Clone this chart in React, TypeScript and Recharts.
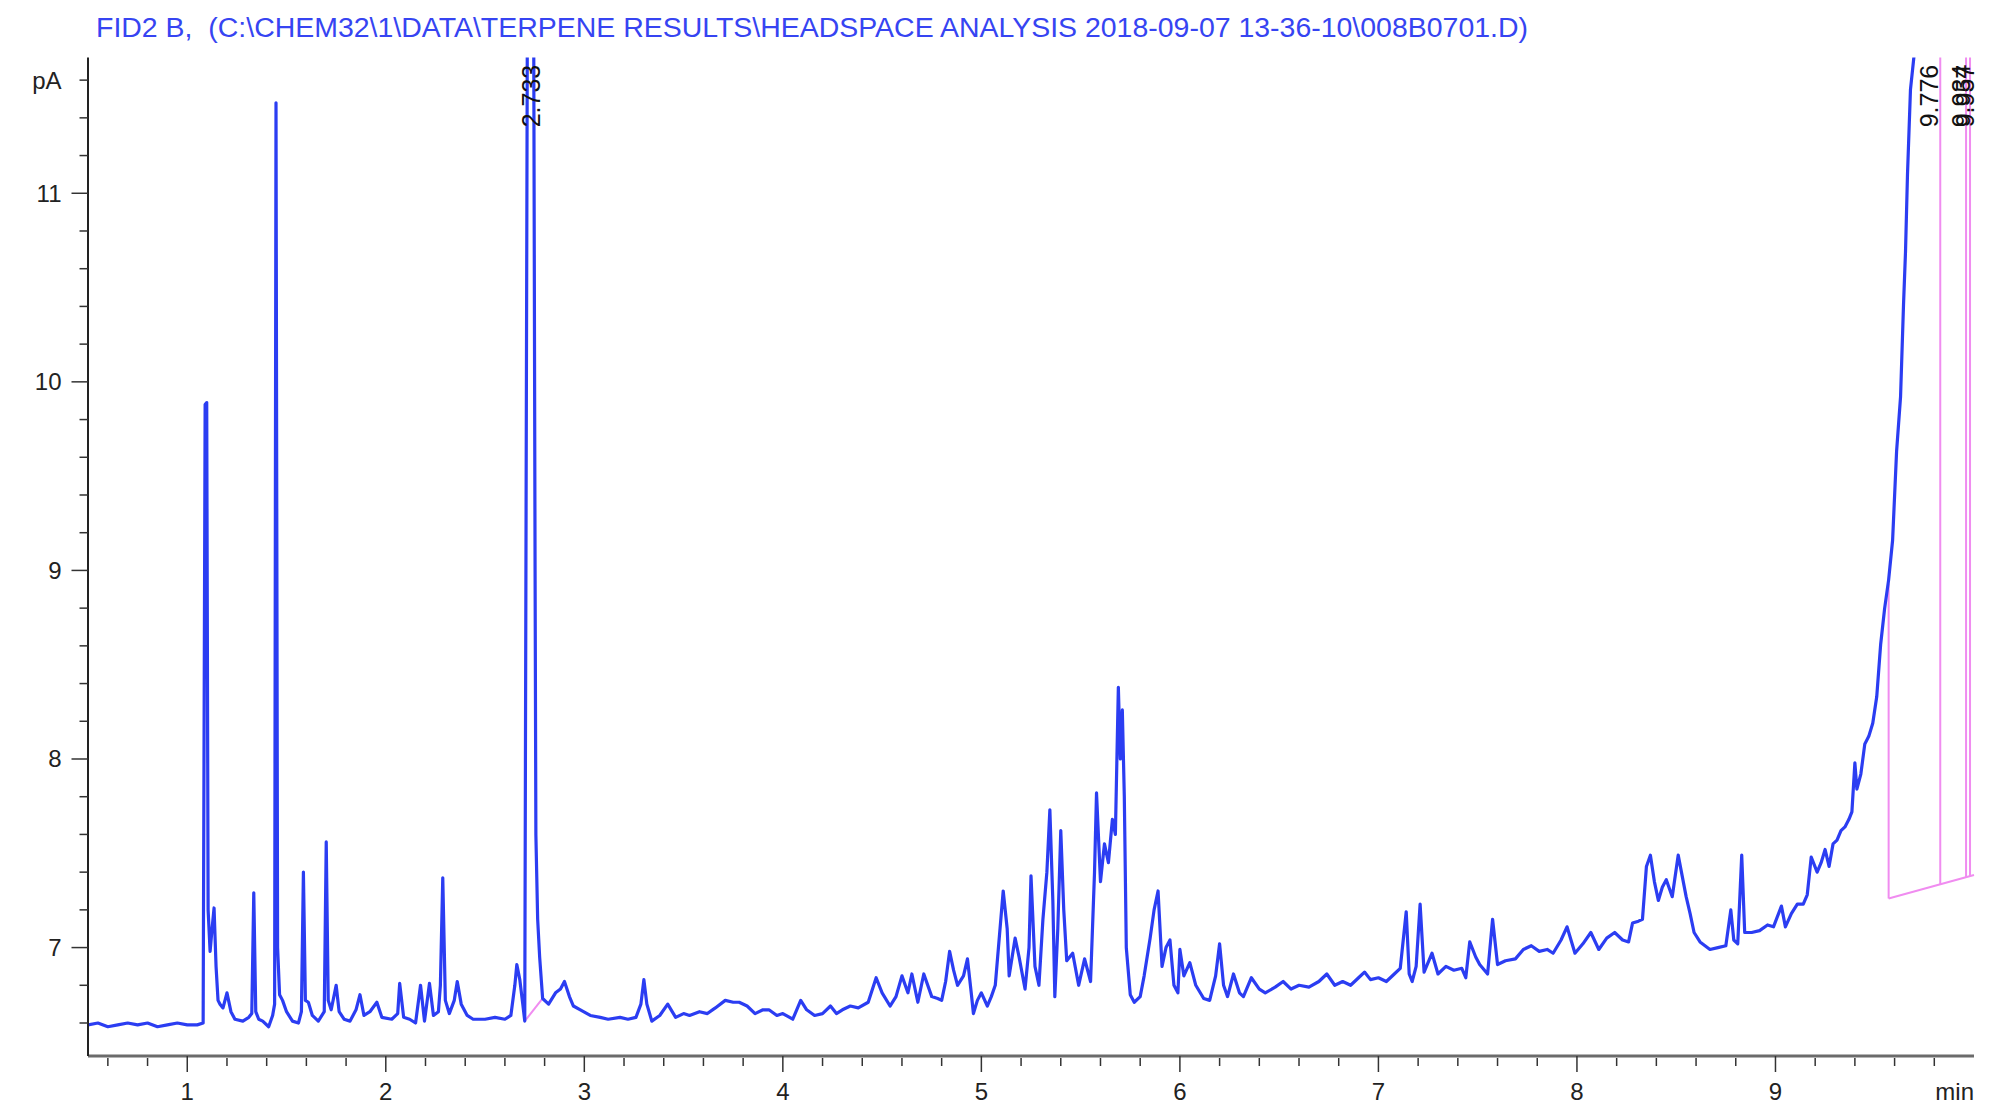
import { LineChart, Line, XAxis, YAxis, ReferenceLine, ReferenceDot } from "recharts";

const title =
  "FID2 B,  (C:\\CHEM32\\1\\DATA\\TERPENE RESULTS\\HEADSPACE ANALYSIS 2018-09-07 13-36-10\\008B0701.D)";

// [retention time (min), signal (pA)]
const traceEarly: [number, number][] = [
  [0.5, 6.59], [0.55, 6.6], [0.6, 6.58], [0.65, 6.59], [0.7, 6.6], [0.75, 6.59], [0.8, 6.6],
  [0.85, 6.58], [0.9, 6.59], [0.95, 6.6], [1.0, 6.59], [1.05, 6.59], [1.08, 6.6], [1.09, 9.88],
  [1.098, 9.89], [1.105, 7.2], [1.115, 6.98], [1.125, 7.1], [1.135, 7.21], [1.145, 6.9],
  [1.155, 6.72], [1.165, 6.7], [1.18, 6.68], [1.2, 6.76], [1.22, 6.66], [1.24, 6.62], [1.28, 6.61],
  [1.31, 6.63], [1.325, 6.65], [1.335, 7.29], [1.345, 6.66], [1.36, 6.62], [1.38, 6.61],
  [1.41, 6.58], [1.43, 6.64], [1.44, 6.7], [1.447, 11.48], [1.455, 7.0], [1.465, 6.75],
  [1.48, 6.72], [1.5, 6.66], [1.53, 6.61], [1.56, 6.6], [1.575, 6.66], [1.585, 7.4],
  [1.595, 6.72], [1.61, 6.71], [1.63, 6.64], [1.66, 6.61], [1.69, 6.66], [1.7, 7.56],
  [1.71, 6.72], [1.725, 6.67], [1.75, 6.8], [1.765, 6.66], [1.79, 6.62], [1.82, 6.61],
  [1.85, 6.67], [1.87, 6.75], [1.89, 6.64], [1.92, 6.66], [1.955, 6.71], [1.98, 6.63],
  [2.03, 6.62], [2.06, 6.65], [2.07, 6.81], [2.09, 6.63], [2.12, 6.62], [2.15, 6.6],
  [2.175, 6.8], [2.195, 6.61], [2.22, 6.81], [2.24, 6.64], [2.265, 6.66], [2.275, 6.8],
  [2.287, 7.37], [2.3, 6.72], [2.32, 6.65], [2.345, 6.72], [2.36, 6.82], [2.38, 6.7],
  [2.41, 6.64], [2.44, 6.62], [2.5, 6.62], [2.55, 6.63], [2.6, 6.62], [2.63, 6.64],
  [2.65, 6.8], [2.66, 6.91], [2.675, 6.83], [2.69, 6.7], [2.7, 6.61],
];

const traceMajorPeak: [number, number][] = [
  [2.713, 11.9], [2.728, 12.6], [2.745, 11.9], [2.752, 9.0], [2.756, 7.6], [2.765, 7.15],
  [2.775, 6.95], [2.79, 6.73], [2.82, 6.7], [2.855, 6.76], [2.88, 6.78], [2.9, 6.82],
  [2.925, 6.74], [2.945, 6.69], [2.98, 6.67],
];

const traceMid: [number, number][] = [
  [3.03, 6.64], [3.08, 6.63], [3.12, 6.62], [3.18, 6.63], [3.22, 6.62], [3.26, 6.63],
  [3.285, 6.7], [3.3, 6.83], [3.315, 6.7], [3.34, 6.61], [3.38, 6.64], [3.42, 6.7],
  [3.46, 6.63], [3.5, 6.65], [3.53, 6.64], [3.58, 6.66], [3.62, 6.65], [3.66, 6.68],
  [3.71, 6.72], [3.75, 6.71], [3.78, 6.71], [3.82, 6.69], [3.86, 6.65], [3.9, 6.67],
  [3.93, 6.67], [3.97, 6.64], [4.0, 6.65], [4.05, 6.62], [4.09, 6.72], [4.12, 6.67],
  [4.16, 6.64], [4.2, 6.65], [4.24, 6.69], [4.27, 6.65], [4.3, 6.67], [4.34, 6.69],
  [4.38, 6.68], [4.43, 6.71], [4.47, 6.84], [4.5, 6.76], [4.54, 6.69], [4.57, 6.74],
  [4.6, 6.85], [4.63, 6.76], [4.65, 6.86], [4.68, 6.71], [4.71, 6.86], [4.75, 6.74],
  [4.78, 6.73], [4.8, 6.72], [4.82, 6.82], [4.84, 6.98], [4.86, 6.88], [4.88, 6.8],
  [4.91, 6.85], [4.93, 6.94], [4.95, 6.75], [4.96, 6.65], [4.98, 6.72],
];

const traceCluster: [number, number][] = [
  [5.0, 6.76], [5.03, 6.69], [5.05, 6.74], [5.07, 6.8], [5.09, 7.05], [5.11, 7.3],
  [5.13, 7.1], [5.14, 6.85], [5.17, 7.05], [5.19, 6.95], [5.22, 6.78], [5.24, 7.0],
  [5.25, 7.38], [5.27, 6.9], [5.29, 6.8], [5.31, 7.15], [5.33, 7.4], [5.345, 7.73],
  [5.36, 7.25], [5.37, 6.74], [5.385, 7.1], [5.4, 7.62], [5.415, 7.2], [5.43, 6.93],
  [5.46, 6.97], [5.49, 6.8], [5.52, 6.94], [5.55, 6.82], [5.57, 7.4], [5.58, 7.82],
  [5.6, 7.35], [5.62, 7.55], [5.64, 7.45], [5.66, 7.68], [5.675, 7.6], [5.69, 8.38],
  [5.7, 8.0], [5.71, 8.26], [5.72, 7.8], [5.73, 7.0], [5.75, 6.75], [5.77, 6.71],
  [5.8, 6.74], [5.82, 6.85], [5.85, 7.05], [5.87, 7.2], [5.89, 7.3], [5.91, 6.9],
  [5.93, 7.0], [5.95, 7.04], [5.97, 6.8], [5.99, 6.76], [6.0, 6.99], [6.02, 6.85],
  [6.05, 6.92], [6.08, 6.8], [6.12, 6.73], [6.15, 6.72], [6.18, 6.85], [6.2, 7.02],
  [6.22, 6.8], [6.24, 6.74], [6.27, 6.86], [6.3, 6.76], [6.32, 6.74], [6.36, 6.84],
  [6.4, 6.78], [6.43, 6.76], [6.48, 6.79],
];

const traceLate: [number, number][] = [
  [6.52, 6.82], [6.56, 6.78], [6.6, 6.8], [6.65, 6.79], [6.7, 6.82], [6.74, 6.86],
  [6.78, 6.8], [6.82, 6.82], [6.86, 6.8], [6.9, 6.84], [6.93, 6.87], [6.96, 6.83],
  [7.0, 6.84], [7.04, 6.82], [7.08, 6.86], [7.11, 6.89], [7.14, 7.19], [7.155, 6.86],
  [7.17, 6.82], [7.19, 6.9], [7.21, 7.23], [7.23, 6.87], [7.25, 6.92], [7.27, 6.97],
  [7.3, 6.86], [7.34, 6.9], [7.38, 6.88], [7.42, 6.89], [7.44, 6.84], [7.46, 7.03],
  [7.49, 6.95], [7.51, 6.91], [7.55, 6.86], [7.575, 7.15], [7.6, 6.91], [7.64, 6.93],
  [7.69, 6.94], [7.73, 6.99], [7.77, 7.01], [7.81, 6.98], [7.85, 6.99], [7.88, 6.97],
  [7.92, 7.04], [7.95, 7.11], [7.97, 7.04], [7.99, 6.97], [8.03, 7.02], [8.07, 7.08],
  [8.11, 6.99], [8.15, 7.05], [8.19, 7.08], [8.23, 7.04], [8.26, 7.03], [8.28, 7.13],
  [8.31, 7.14], [8.33, 7.15], [8.35, 7.43], [8.37, 7.49], [8.39, 7.35], [8.41, 7.25],
  [8.43, 7.32], [8.45, 7.36], [8.48, 7.27], [8.51, 7.49], [8.53, 7.38], [8.55, 7.27],
  [8.57, 7.18], [8.59, 7.08], [8.62, 7.03], [8.67, 6.99], [8.71, 7.0], [8.75, 7.01],
  [8.775, 7.2], [8.79, 7.04], [8.81, 7.02], [8.83, 7.49], [8.845, 7.08], [8.88, 7.08],
  [8.92, 7.09], [8.96, 7.12], [8.99, 7.11],
];

const traceRamp: [number, number][] = [
  [9.03, 7.22], [9.05, 7.11], [9.08, 7.18], [9.11, 7.23], [9.14, 7.23], [9.16, 7.28],
  [9.18, 7.48], [9.21, 7.4], [9.23, 7.45], [9.25, 7.52], [9.27, 7.43], [9.29, 7.55],
  [9.31, 7.57], [9.33, 7.62], [9.35, 7.64], [9.37, 7.68], [9.385, 7.72], [9.4, 7.98],
  [9.41, 7.84], [9.43, 7.92], [9.45, 8.08], [9.47, 8.12], [9.49, 8.19], [9.51, 8.33],
  [9.53, 8.61], [9.55, 8.8], [9.57, 8.95], [9.59, 9.16], [9.61, 9.63], [9.63, 9.92],
  [9.645, 10.41], [9.655, 10.69], [9.665, 11.1], [9.68, 11.55], [9.7, 11.75], [9.72, 12.2],
  [9.75, 12.8], [9.78, 13.2],
];

// integration baselines / peak boundaries (pink)
const baselineSegments: [number, number, number, number][] = [
  [2.7, 6.61, 2.79, 6.73],
  [9.57, 7.26, 9.57, 8.93],
  [9.57, 7.26, 10.0, 7.385],
  [9.83, 7.336, 9.83, 11.72],
  [9.96, 7.373, 9.96, 11.72],
  [9.98, 7.379, 9.98, 11.72],
];

const peakTimes = [2.733, 9.776, 9.934, 9.957];
const peakTexts = ["2.733", "9.776", "9.934", "9.957"];

const xTicks = [
  0.6, 0.8, 1, 1.2, 1.4, 1.6, 1.8, 2, 2.2, 2.4, 2.6, 2.8, 3, 3.2, 3.4, 3.6, 3.8, 4, 4.2, 4.4,
  4.6, 4.8, 5, 5.2, 5.4, 5.6, 5.8, 6, 6.2, 6.4, 6.6, 6.8, 7, 7.2, 7.4, 7.6, 7.8, 8, 8.2, 8.4,
  8.6, 8.8, 9, 9.2, 9.4, 9.6, 9.8, 10,
];
const yTicks = [
  6.6, 6.8, 7, 7.2, 7.4, 7.6, 7.8, 8, 8.2, 8.4, 8.6, 8.8, 9, 9.2, 9.4, 9.6, 9.8, 10, 10.2,
  10.4, 10.6, 10.8, 11, 11.2, 11.4, 11.6,
];
const yLabels: Record<string, string> = { "7": "7", "8": "8", "9": "9", "10": "10", "11": "11", "11.6": "pA" };

const BLUE = "#2b3df2";
const PINK = "#f08cf0";
const FONT = "'Liberation Sans', Arial, sans-serif";

const data = [...traceEarly, ...traceMajorPeak, ...traceMid, ...traceCluster, ...traceLate, ...traceRamp].map(
  ([t, pA]) => ({ t, pA })
);

const isWhole = (v: number) => Math.abs(v - Math.round(v)) < 1e-6;

function XTick(props: any) {
  const { x, y, payload } = props;
  const v = payload.value as number;
  if (v >= 10) {
    return (
      <text x={x} y={y + 44} textAnchor="end" fontSize={24} fontFamily={FONT} fill="#222">
        min
      </text>
    );
  }
  const major = isWhole(v);
  return (
    <g>
      <line x1={x} x2={x} y1={y + (major ? 0 : 2)} y2={y + (major ? 16 : 10)} stroke="#333" strokeWidth={1.5} />
      {major && (
        <text x={x} y={y + 44} textAnchor="middle" fontSize={24} fontFamily={FONT} fill="#222">
          {String(Math.round(v))}
        </text>
      )}
    </g>
  );
}

function YTick(props: any) {
  const { x, y, payload } = props;
  const v = payload.value as number;
  const major = isWhole(v);
  const label = yLabels[String(Math.round(v * 10) / 10)];
  return (
    <g>
      <line x1={x - (major ? 16.5 : 8.5)} x2={x} y1={y} y2={y} stroke="#333" strokeWidth={1.5} />
      {label && (
        <text x={x - 26.5} y={y} dy="0.35em" textAnchor="end" fontSize={24} fontFamily={FONT} fill="#222">
          {label}
        </text>
      )}
    </g>
  );
}

export default function App() {
  return (
    <div style={{ position: "relative", width: 2005, height: 1112, margin: -8, background: "#fff" }}>
      <svg width={2005} height={60} style={{ position: "absolute", left: 0, top: 0 }}>
        <text
          x={96}
          y={37}
          fontSize={27}
          fontFamily={FONT}
          fill="#3644f2"
          textLength={1432}
          lengthAdjust="spacingAndGlyphs"
          style={{ whiteSpace: "pre" }}
        >
          {title}
        </text>
      </svg>
      <LineChart width={2005} height={1112} data={data} margin={{ top: 57.5, right: 31, bottom: 0, left: 0 }}>
        <XAxis
          dataKey="t"
          type="number"
          domain={[0.5, 10]}
          allowDataOverflow
          ticks={xTicks}
          interval={0}
          height={56}
          tickSize={0}
          tickMargin={0}
          tickLine={false}
          tick={(p: any) => <XTick {...p} />}
          axisLine={{ stroke: "#6b6b6b", strokeWidth: 3 }}
        />
        <YAxis
          type="number"
          domain={[6.425, 11.72]}
          allowDataOverflow
          ticks={yTicks}
          interval={0}
          width={88}
          tickSize={0}
          tickMargin={0}
          tickLine={false}
          tick={(p: any) => <YTick {...p} />}
          axisLine={{ stroke: "#222", strokeWidth: 2 }}
        />
        {baselineSegments.map(([x1, y1, x2, y2], i) => (
          <ReferenceLine
            key={`seg-${i}`}
            segment={[{ x: x1, y: y1 }, { x: x2, y: y2 }]}
            stroke={PINK}
            strokeWidth={2}
            ifOverflow="visible"
          />
        ))}
        <Line
          type="linear"
          dataKey="pA"
          stroke={BLUE}
          strokeWidth={3.2}
          strokeLinejoin="round"
          dot={false}
          isAnimationActive={false}
        />
        {peakTimes.map((t, i) => (
          <ReferenceDot
            key={`lbl-${i}`}
            x={t}
            y={11.35}
            r={0}
            ifOverflow="visible"
            shape={(p: any) => (
              <text
                x={p.cx}
                y={p.cy}
                dy="0.35em"
                transform={`rotate(-90, ${p.cx}, ${p.cy})`}
                fontSize={25}
                fontFamily={FONT}
                fill="#111"
              >
                {peakTexts[i]}
              </text>
            )}
          />
        ))}
      </LineChart>
    </div>
  );
}
